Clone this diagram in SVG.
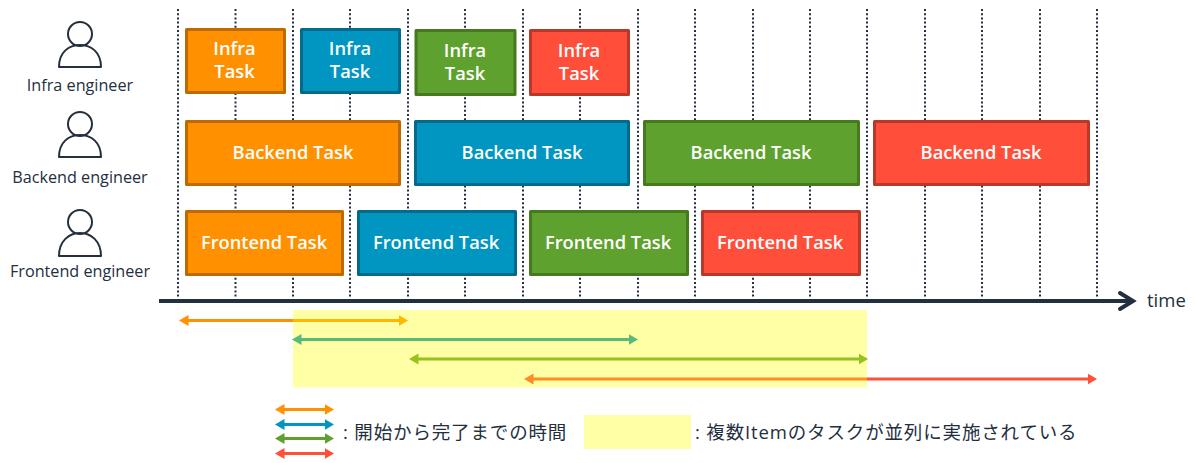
<svg xmlns="http://www.w3.org/2000/svg" width="1195" height="463" viewBox="0 0 1195 463">
<style>
text{font-family:"Open Sans","Noto Sans CJK JP",sans-serif}
.t{fill:#fff;font-size:18.300px;font-weight:600;text-anchor:middle}
.l{fill:#232f3e;font-size:16.200px;text-anchor:middle}
.j{fill:#232f3e;font-size:18.500px;letter-spacing:.85px}
.o{fill:#ff9000;stroke:#bd6a00}
.b{fill:#0096c1;stroke:#006a8a}
.g{fill:#5ea12e;stroke:#47791f}
.r{fill:#ff4f3b;stroke:#b8382a}
rect.o,rect.b,rect.g,rect.r{stroke-width:3;stroke-linejoin:round}
.p{fill:none;stroke:#232f3e;stroke-width:2;stroke-linejoin:round}
.v{stroke:#232f3e;stroke-width:2;stroke-dasharray:2 2.2;fill:none}
.a{stroke-width:3;fill:none}
</style>
<defs>
<marker id="mo" markerUnits="userSpaceOnUse" markerWidth="10" markerHeight="12" refX="5.500" refY="6" orient="auto-start-reverse"><path d="M0 .5L9.500 6L0 11.500Z" fill="#ff9000"/></marker>
<marker id="mb" markerUnits="userSpaceOnUse" markerWidth="10" markerHeight="12" refX="5.500" refY="6" orient="auto-start-reverse"><path d="M0 .5L9.500 6L0 11.500Z" fill="#0096c1"/></marker>
<marker id="mg" markerUnits="userSpaceOnUse" markerWidth="10" markerHeight="12" refX="5.500" refY="6" orient="auto-start-reverse"><path d="M0 .5L9.500 6L0 11.500Z" fill="#5ea12e"/></marker>
<marker id="mr" markerUnits="userSpaceOnUse" markerWidth="10" markerHeight="12" refX="5.500" refY="6" orient="auto-start-reverse"><path d="M0 .5L9.500 6L0 11.500Z" fill="#ff4f3b"/></marker>
</defs>
<g id="connectors">
<g id="gridlines">
<path class="v" d="M178 9V298M235.500 9V298M293 9V298M350 9V298M408 9V298M465 9V298M523 9V298M580 9V298M638 9V298M695 9V298M753 9V298M810 9V298M867 9V298M925 9V298M982 9V298M1040 9V298M1097 9V298"/>
</g>
<g id="axis">
<path d="M159 301H1133" stroke="#232f3e" stroke-width="4" fill="none"/>
<path d="M1120 293L1133 301L1120 309" stroke="#232f3e" stroke-width="4" fill="none" stroke-linecap="round" stroke-linejoin="miter"/>
</g>
<g id="spans">
<path class="a" stroke="#ff9000" marker-start="url(#mo)" marker-end="url(#mo)" d="M183 320.500H404"/>
<path class="a" stroke="#0096c1" marker-start="url(#mb)" marker-end="url(#mb)" d="M296 339.500H634"/>
<path class="a" stroke="#5ea12e" marker-start="url(#mg)" marker-end="url(#mg)" d="M413 359H864"/>
<path class="a" stroke="#ff4f3b" marker-start="url(#mr)" marker-end="url(#mr)" d="M528 379H1093"/>
</g>
<g id="legend-arrows">
<path class="a" stroke="#ff9000" marker-start="url(#mo)" marker-end="url(#mo)" d="M279 409.500H330"/>
<path class="a" stroke="#0096c1" marker-start="url(#mb)" marker-end="url(#mb)" d="M279 424.500H330"/>
<path class="a" stroke="#5ea12e" marker-start="url(#mg)" marker-end="url(#mg)" d="M279 438.500H330"/>
<path class="a" stroke="#ff4f3b" marker-start="url(#mr)" marker-end="url(#mr)" d="M279 453.500H330"/>
</g>
</g>
<rect id="parallel-band" x="293" y="310" width="574" height="77.500" fill="#ffff00" fill-opacity=".35"/>
<rect id="legend-swatch" x="584" y="415" width="107" height="34" fill="#ffff00" fill-opacity=".35"/>
<g id="infra-engineer"><circle class="p" cx="80" cy="34" r="12"/><path class="p" d="M59 67C59 52 69 45 80 45C91 45 101 52 101 67Z"/><text class="l" x="80" y="91">Infra engineer</text></g>
<g id="backend-engineer"><circle class="p" cx="80" cy="124" r="12"/><path class="p" d="M59 157C59 142 69 135 80 135C91 135 101 142 101 157Z"/><text class="l" x="80" y="183">Backend engineer</text></g>
<g id="frontend-engineer"><circle class="p" cx="80" cy="222" r="12"/><path class="p" d="M59 256C59 241 69 233 80 233C91 233 101 241 101 256Z"/><text class="l" x="80" y="277">Frontend engineer</text></g>
<g id="infra-1"><rect class="o" x="186.500" y="29.500" width="98" height="63"/><text class="t" x="234.500" y="55">Infra</text><text class="t" x="234.500" y="78">Task</text></g>
<g id="infra-2"><rect class="b" x="301.500" y="29.500" width="98" height="63"/><text class="t" x="350" y="55">Infra</text><text class="t" x="350" y="78">Task</text></g>
<g id="infra-3"><rect class="g" x="416" y="30.500" width="99" height="64"/><text class="t" x="465" y="57">Infra</text><text class="t" x="465" y="80">Task</text></g>
<g id="infra-4"><rect class="r" x="530.500" y="30.500" width="98" height="64"/><text class="t" x="579" y="57">Infra</text><text class="t" x="579" y="80">Task</text></g>
<g id="backend-1"><rect class="o" x="186.500" y="121.500" width="213" height="63"/><text class="t" x="293" y="158.500">Backend Task</text></g>
<g id="backend-2"><rect class="b" x="415.500" y="121.500" width="213" height="63"/><text class="t" x="522" y="158.500">Backend Task</text></g>
<g id="backend-3"><rect class="g" x="644.500" y="121.500" width="214" height="63"/><text class="t" x="751" y="158.500">Backend Task</text></g>
<g id="backend-4"><rect class="r" x="874.500" y="121.500" width="214" height="63"/><text class="t" x="981" y="158.500">Backend Task</text></g>
<g id="frontend-1"><rect class="o" x="186.500" y="211.500" width="156" height="63"/><text class="t" x="264" y="248.500">Frontend Task</text></g>
<g id="frontend-2"><rect class="b" x="358.500" y="211.500" width="157" height="63"/><text class="t" x="436" y="248.500">Frontend Task</text></g>
<g id="frontend-3"><rect class="g" x="530.500" y="211.500" width="157" height="63"/><text class="t" x="608" y="248.500">Frontend Task</text></g>
<g id="frontend-4"><rect class="r" x="702.500" y="211.500" width="157" height="63"/><text class="t" x="780" y="248.500">Frontend Task</text></g>
<text x="1147" y="307" fill="#232f3e" font-size="18.500">time</text>
<text class="j" x="343" y="439">: 開始から完了までの時間</text>
<text class="j" x="695" y="439">: 複数Itemのタスクが並列に実施されている</text>
</svg>
